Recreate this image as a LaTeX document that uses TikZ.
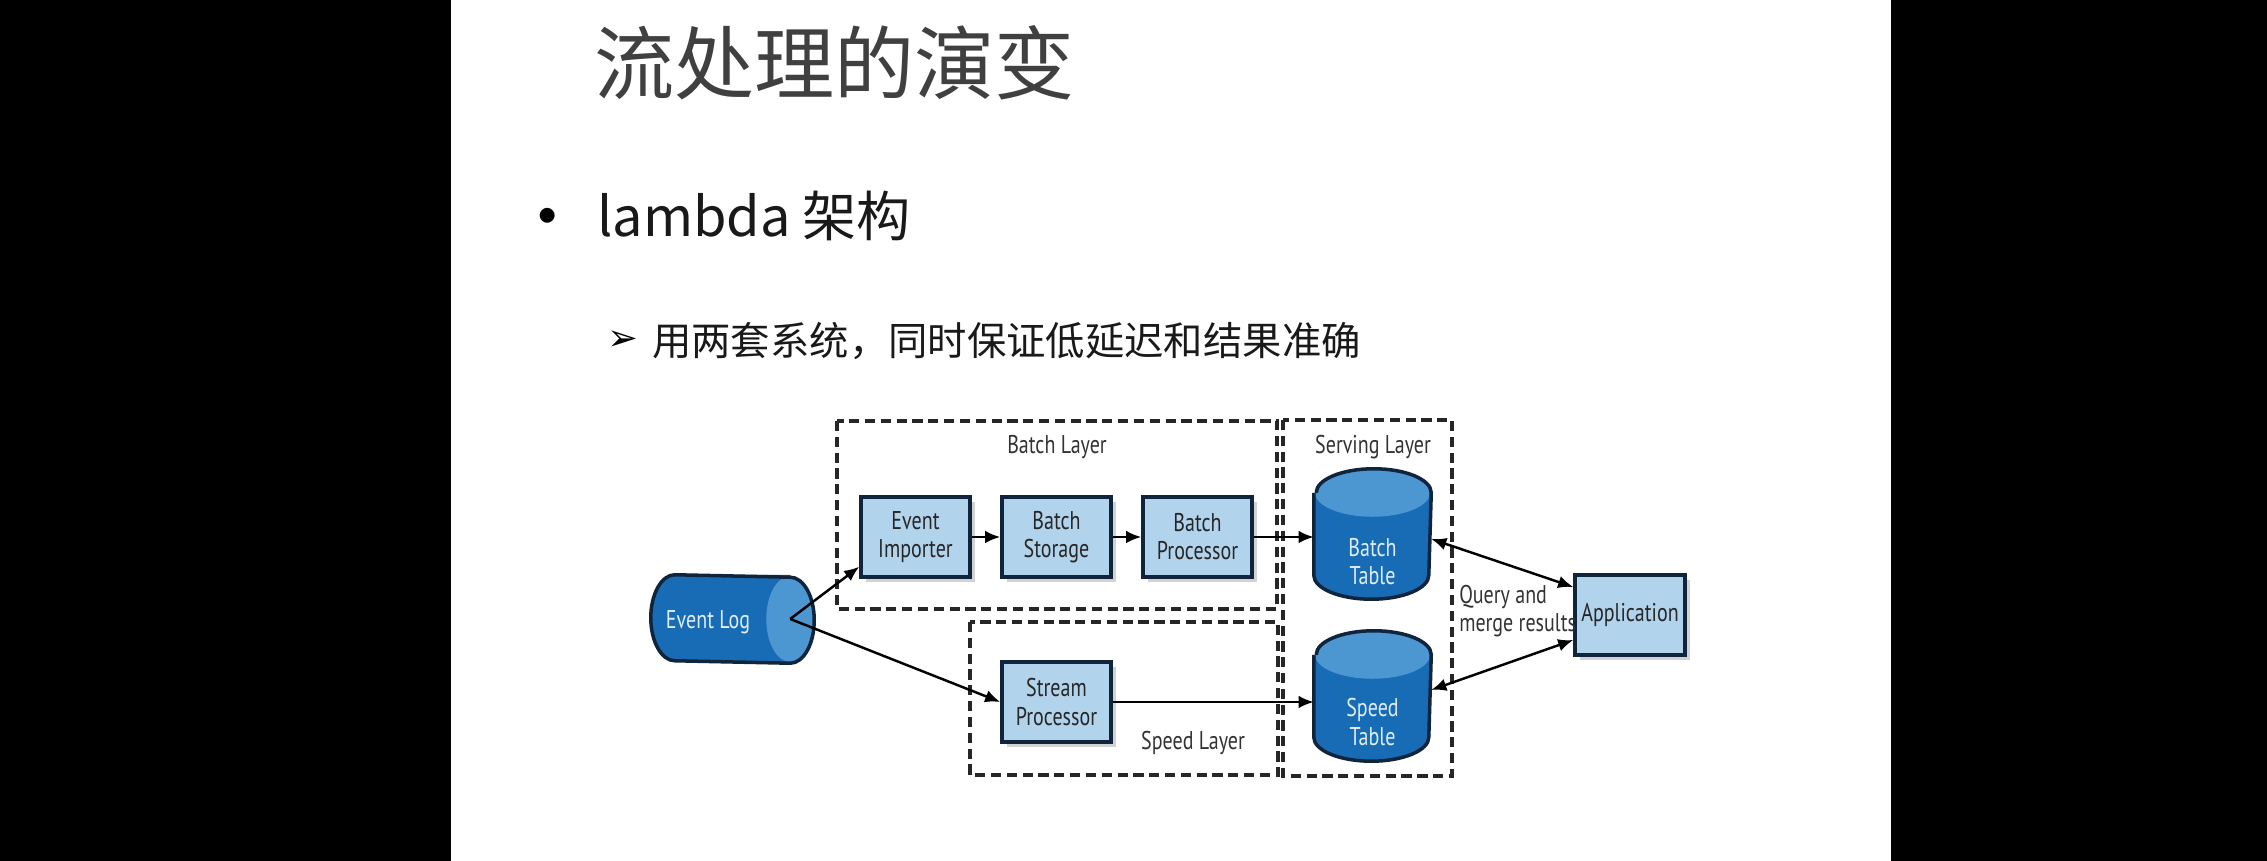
\documentclass[tikz,border=0pt]{standalone}
\usepackage{fontspec}
\usepackage{tikz}
\usetikzlibrary{positioning}
\usetikzlibrary{arrows.meta,shadows}
\setmainfont{Noto Sans CJK SC}
\newfontfamily\diafont[FakeStretch=0.78]{PT Sans}
\newfontfamily\symfont{DejaVu Sans}

\definecolor{boxblue}{RGB}{178,211,236}
\definecolor{dbblue}{RGB}{24,108,181}
\definecolor{dbtop}{RGB}{76,150,209}
\definecolor{dbtext}{RGB}{222,238,250}
\definecolor{edgeblue}{RGB}{16,36,60}
\definecolor{titlegray}{RGB}{64,64,64}

\tikzset{
  proc/.style={rectangle, draw=edgeblue, line width=1pt, fill=boxblue,
    minimum width=1.09cm, minimum height=0.8cm, inner sep=0pt, align=center,
    font=\diafont\fontsize{7.3}{8}\selectfont, text=black!85,
    drop shadow={shadow xshift=0.05cm, shadow yshift=-0.05cm, opacity=0.35}},
  db/.style={rectangle, inner sep=0pt, minimum width=1.15cm, minimum height=1.28cm},
  dbline/.style={draw=edgeblue, line width=1pt},
  dbtxt/.style={font=\diafont\fontsize{7.3}{8}\selectfont, text=dbtext, align=center, inner sep=0pt},
  layer/.style={draw=black!85, line width=0.9pt, dash pattern=on 2.9pt off 1.6pt},
  lbl/.style={font=\diafont\fontsize{7.3}{8}\selectfont, text=black!80, align=left, inner sep=0pt}
}

\begin{document}
\begin{tikzpicture}[->,>={Latex[length=4.3pt,width=3.6pt]},line width=0.7pt,node distance=1.41cm]
  \useasboundingbox (0,0) rectangle (22.67,8.61);
  \fill[black] (0,0) rectangle (22.67,8.61);
  \fill[white] (4.51,0) rectangle (18.91,8.61);

  \node[inner sep=0pt,text=titlegray,font=\fontsize{22.8}{27}\selectfont] (title) at (8.345,7.98) {流处理的演变};
  \node[inner sep=0pt,font=\fontsize{20}{22}\selectfont] (dot) at (5.48,6.36) {•};
  \node[inner sep=0pt,anchor=west,text=black!90,font=\fontsize{15.4}{18}\selectfont] (lambda) at (5.96,6.45) {lambda 架构};
  \node[inner sep=0pt,font=\symfont\fontsize{10.5}{12}\selectfont] (mark) at (6.23,5.20) {➢};
  \node[inner sep=0pt,anchor=west,text=black!90,font=\fontsize{11.2}{13}\selectfont] (sub) at (6.51,5.20) {用两套系统，同时保证低延迟和结果准确};

  \draw[layer,-] (8.37,4.40) rectangle (12.77,2.52);
  \draw[layer,-] (9.70,2.39) rectangle (12.78,0.86);
  \draw[layer,-] (12.83,4.41) rectangle (14.52,0.85);

  \node[db,minimum width=1.61cm,minimum height=0.86cm] (log) at (7.325,2.42) {};
  \node[proc] (imp) at (9.155,3.24) {Event\\Importer};
  \node[proc] (stor) [right of=imp] {Batch\\Storage};
  \node[proc] (bproc) [right of=stor] {Batch\\Processor};
  \node[proc] (stream) [below of=stor,node distance=1.65cm] {Stream\\Processor};
  \node[db] (btab) at (13.725,3.27) {};
  \node[db] (stab) [below of=btab,node distance=1.62cm] {};
  \node[proc,minimum width=1.1cm] (app) at (16.30,2.46) {Application};

  % horizontal cylinder
  \fill[dbblue] ([xshift=0.24cm]log.north west) arc[start angle=90,end angle=270,x radius=0.24cm,y radius=0.43cm]
    -- ([xshift=-0.24cm]log.south east) -- ([xshift=-0.24cm]log.north east) -- cycle;
  \fill[dbtop] ([xshift=-0.24cm]log.east) ellipse[x radius=0.24cm,y radius=0.43cm];
  \draw[dbline,-] ([xshift=0.24cm]log.north west) arc[start angle=90,end angle=270,x radius=0.24cm,y radius=0.43cm]
    -- ([xshift=-0.24cm]log.south east) arc[start angle=-90,end angle=90,x radius=0.24cm,y radius=0.43cm] -- cycle;
  % upright cylinders
  \foreach \t in {btab,stab}{
    \fill[dbblue] ([yshift=-0.24cm]\t.north west) -- ([yshift=0.24cm]\t.south west)
      arc[start angle=180,end angle=360,x radius=0.575cm,y radius=0.24cm] -- ([yshift=-0.24cm]\t.north east) -- cycle;
    \fill[dbtop] ([yshift=-0.24cm]\t.north) ellipse[x radius=0.575cm,y radius=0.24cm];
    \draw[dbline,-] ([yshift=-0.24cm]\t.north west) -- ([yshift=0.24cm]\t.south west)
      arc[start angle=180,end angle=360,x radius=0.575cm,y radius=0.24cm] -- ([yshift=-0.24cm]\t.north east)
      arc[start angle=0,end angle=180,x radius=0.575cm,y radius=0.24cm];
  }
  \node[dbtxt] (logtxt) at ([xshift=-0.245cm,yshift=-0.03cm]log.center) {Event Log};
  \node[dbtxt] (btxt) at ([yshift=-0.28cm]btab.center) {Batch\\Table};
  \node[dbtxt] (stxt) at ([yshift=-0.26cm]stab.center) {Speed\\Table};

  \node[lbl] (bl) at (10.57,4.14) {Batch Layer};
  \node[lbl] (sl) at (11.93,1.18) {Speed Layer};
  \node[lbl] (vl) at (13.73,4.14) {Serving Layer};
  \node[lbl,anchor=west] (qm) at (14.58,2.50) {Query and\\merge results};

  \coordinate (src) at ([xshift=-0.24cm]log.east);
\path (src) edge ([yshift=0.12cm]imp.south west)
      (src) edge (stream.west)
      (imp) edge (stor)
      (stor) edge (bproc)
      (bproc.east) edge (bproc.east -| btab.west)
      (stream.east) edge (stream.east -| stab.west)
      ([yshift=-0.05cm]btab.east) edge[<->] ([yshift=0.28cm]app.west)
      ([yshift=0.06cm]stab.east) edge[<->] ([yshift=-0.25cm]app.west);
\end{tikzpicture}
\end{document}
